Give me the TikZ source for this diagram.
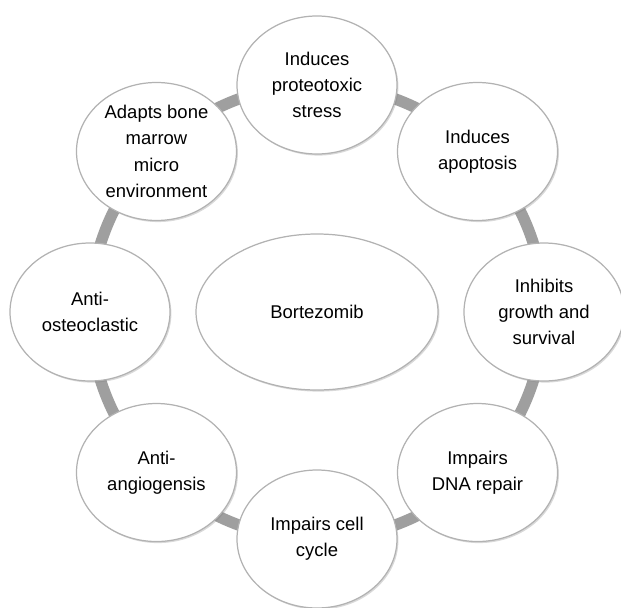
\documentclass[tikz,border=0pt]{standalone}
\usepackage{fontspec}
\setmainfont{Liberation Sans}
\usepackage{tikz}
\usetikzlibrary{shapes.geometric,shadows,backgrounds,positioning,calc}

\begin{document}
\begin{tikzpicture}[
    bubble/.style={ellipse, draw=gray!60, line width=0.7pt, fill=white,
        minimum width=3.2cm, minimum height=2.76cm, inner sep=0pt,
        align=center, font=\fontsize{10.5}{15}\selectfont,
        drop shadow={shadow xshift=0.8pt, shadow yshift=-0.9pt, opacity=0.3}},
    hub/.style={bubble, minimum width=4.84cm, minimum height=3.12cm},
    ring/.style={line width=6.5pt, draw=gray!75}
]
    \useasboundingbox (0,0) rectangle (12.42,12.14);

    % Centre
    \node[hub] (bortezomib) at (6.34,5.9) {Bortezomib};

    % Effects round the ring
    \foreach \ang/\name/\txt in {
        90/stress/{Induces\\proteotoxic\\stress},
        45/apoptosis/{Induces\\apoptosis},
        0/growth/{Inhibits\\growth and\\survival},
        -45/repair/{Impairs\\DNA repair},
        -90/cycle/{Impairs cell\\cycle},
        -135/angio/{Anti-\\angiogensis},
        180/osteo/{Anti-\\osteoclastic},
        135/marrow/{Adapts bone\\marrow\\micro\\environment}} {
        \node[bubble] (\name) at ($(bortezomib)+(\ang:4.54)$) {\txt};
    }

    % Grey ring behind the bubbles
    \begin{scope}[on background layer]
        \foreach \a/\b in {stress/apoptosis, apoptosis/growth, growth/repair,
            repair/cycle, cycle/angio, angio/osteo, osteo/marrow, marrow/stress} {
            \draw[ring] (\a.center) to[bend left=22.5, looseness=0.885] (\b.center);
        }
    \end{scope}
\end{tikzpicture}
\end{document}
